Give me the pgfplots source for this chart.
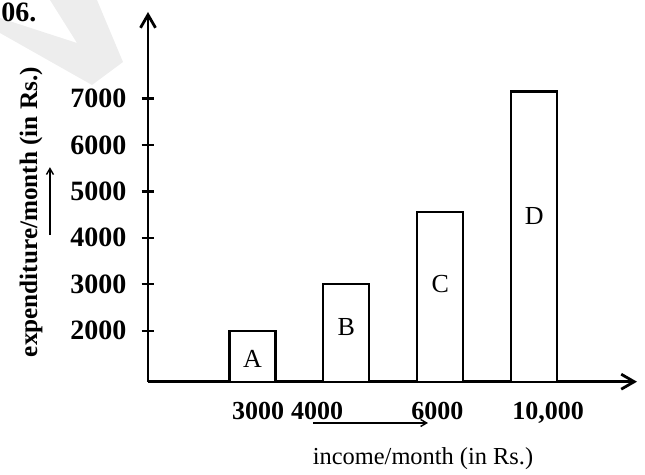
\documentclass[border=0pt]{standalone}
\usepackage{fontspec}
\setmainfont{Liberation Serif}
\usepackage{pgfplots}
\pgfplotsset{compat=1.18}
\usetikzlibrary{arrows.meta}

\begin{document}
\begin{tikzpicture}
% page frame: 1px of the scan = 0.5bp, origin at top left
\path[use as bounding box] (0,0) rectangle (322.5bp,-237.5bp);
\begin{scope}[x=0.5bp,y=-0.5bp]
  % faint watermark and the question number
  \fill[black!7] (0,33) -- (92,85) -- (123,62) -- (97,0) -- (50,0) -- (77,43) -- (0,18) -- cycle;
  \node[anchor=base west, inner sep=0, font=\fontsize{14bp}{16bp}\selectfont\bfseries] at (1,21) {06.};
\end{scope}

\begin{axis}[
    at={(74bp,-190.85bp)}, anchor=south west,
    scale only axis,
    width=244.5bp, height=184.85bp,
    xmin=-0.1129, xmax=5.095,
    ymin=903, ymax=8860,
    axis lines=left,
    axis line style={line width=1.4bp, -{Straight Barb[length=6.5bp,width=7.5bp,line width=1.4bp]}},
    clip mode=individual,
    ytick={2000,3000,4000,5000,6000,7000},
    yticklabels={2000,3000,4000,5000,6000,7000},
    xtick={1.059,1.687,2.970,4.148},
    xticklabels={{3000},{\raisebox{-1.2bp}{4000}},{6000},{\raisebox{2bp}{10,000}}},
    yticklabel style={font=\fontsize{14bp}{16bp}\selectfont\bfseries, anchor=east, xshift=-4bp},
    xticklabel style={font=\fontsize{13bp}{15bp}\selectfont\bfseries, anchor=north, yshift=-3.5bp},
    tick align=center,
    major tick length=6.5bp,
    y tick style={line width=1.2bp, black},
    x tick style={draw=none},
    xlabel={income/month (in Rs.)},
    xlabel style={at={(rel axis cs:0.5624,-0.208)}, anchor=center,
        font=\fontsize{12.2bp}{14bp}\selectfont},
    ylabel={expenditure/month (in Rs.)},
    ylabel style={at={(rel axis cs:-0.239,0.459)}, anchor=center,
        font=\fontsize{12.6bp}{14bp}\selectfont\bfseries},
]
\addplot[ybar, bar width=0.49, fill=white, draw=black, line width=1.1bp]
    coordinates {(1,2000) (2,3000) (3,4550) (4,7150)};

\node[font=\fontsize{13bp}{15bp}\selectfont] at (axis cs:1,1385) {A};
\node[font=\fontsize{13bp}{15bp}\selectfont] at (axis cs:2,2086) {B};
\node[font=\fontsize{13bp}{15bp}\selectfont] at (axis cs:3,3004) {C};
\node[font=\fontsize{13bp}{15bp}\selectfont] at (axis cs:4,4467) {D};

% direction arrows beside the axis labels
\draw[line width=0.7bp, -{Straight Barb[length=3bp,width=3.5bp]}]
    (axis cs:1.644,15) -- (axis cs:2.869,15);
\draw[line width=0.7bp, -{Straight Barb[length=3bp,width=3.5bp]}]
    (axis cs:-1.157,4058) -- (axis cs:-1.157,5520);
\end{axis}
\end{tikzpicture}
\end{document}
